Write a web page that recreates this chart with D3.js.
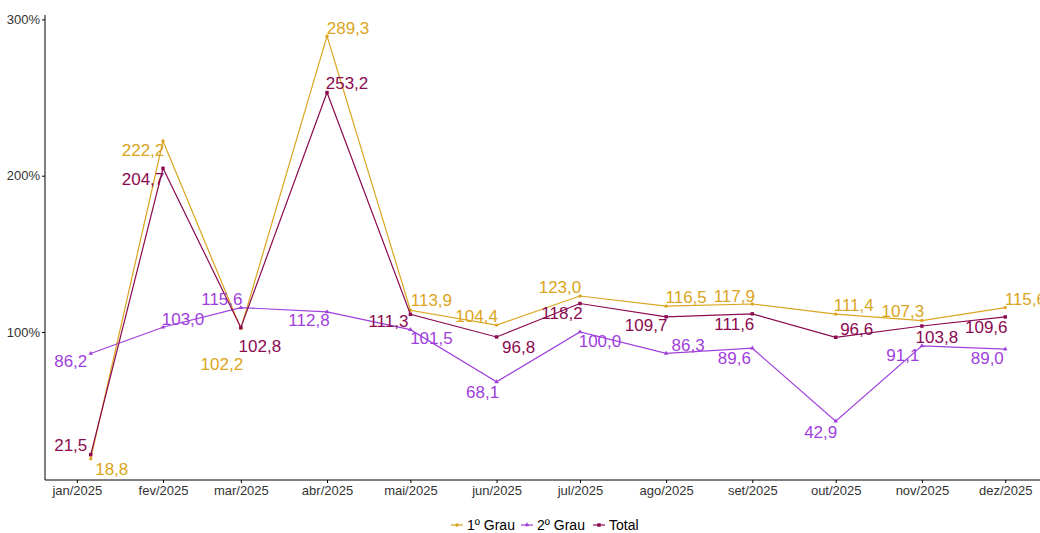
<!DOCTYPE html>
<html lang="pt">
<head>
<meta charset="UTF-8"/>
<title>Grau</title>
<script src="https://d3js.org/d3.v7.min.js"></script>
<style>
    body { margin: 0; background: #fff; }
    text { font-family: "Liberation Sans", Arial, sans-serif; }
    .axis path, .axis line { stroke: #000; }
    .axis text { fill: #333; font-size: 13px; }
</style>
</head>
<body>
<div id="chart"></div>
<script>
// data
var dates = ["2025-01-06", "2025-02-01", "2025-03-01", "2025-04-01", "2025-05-01", "2025-06-01",
             "2025-07-01", "2025-08-01", "2025-09-01", "2025-10-01", "2025-11-01", "2025-12-01"];
var tickDates = ["2025-01-01", "2025-02-01", "2025-03-01", "2025-04-01", "2025-05-01", "2025-06-01",
                 "2025-07-01", "2025-08-01", "2025-09-01", "2025-10-01", "2025-11-01", "2025-12-01"];
var tickLabels = ["jan/2025", "fev/2025", "mar/2025", "abr/2025", "mai/2025", "jun/2025",
                  "jul/2025", "ago/2025", "set/2025", "out/2025", "nov/2025", "dez/2025"];
var grau1 = [18.8, 222.2, 102.2, 289.3, 113.9, 104.4, 123.0, 116.5, 117.9, 111.4, 107.3, 115.6];
var grau2 = [86.2, 103.0, 115.6, 112.8, 101.5, 68.1, 100.0, 86.3, 89.6, 42.9, 91.1, 89.0];
var total = [21.5, 204.7, 102.8, 253.2, 111.3, 96.8, 118.2, 109.7, 111.6, 96.6, 103.8, 109.6];
var yTicks = [100, 200, 300];

// label nudges (repel-like), px from point
var off1 = [[21,11],[-20,10],[-19,36],[21,-8],[21,-10],[-20,-9],[-20,-9],[20,-9],[-18,-7],[18,-9],[-19,-9],[20,-8]];
var off2 = [[-20,8],[20,-8],[-19,-8],[-18,9],[21,9],[-14,11],[20,10],[22,-8],[-18,10],[-15,11],[-19,10],[-18,9]];
var off3 = [[-20,-9],[-20,11],[19,19],[20,-9],[-22,7],[22,11],[-18,10],[-20,9],[-18,11],[21,-8],[15,11],[-19,11]];

var series = [
    {name: "1º Grau", values: grau1, color: "#DAA520", symbol: d3.symbolCircle, size: 9, off: off1},
    {name: "2º Grau", values: grau2, color: "#A040DC", symbol: d3.symbolTriangle, size: 9, off: off2},
    {name: "Total", values: total, color: "#8B0A50", symbol: d3.symbolSquare, size: 12, off: off3}
];

var width = 1040, height = 533;
var parse = d3.timeParse("%Y-%m-%d");
var xd = dates.map(parse);

var svg = d3.select("#chart").append("svg")
    .attr("width", width)
    .attr("height", height);

// expanded domains like ggplot (5%)
var xExt = d3.extent(xd);
var xPad = (xExt[1] - xExt[0]) * 0.05;
var x = d3.scaleTime()
    .domain([new Date(+xExt[0] - xPad), new Date(+xExt[1] + xPad)])
    .range([45, 1051]);

var all = grau1.concat(grau2, total);
var yExt = d3.extent(all);
var yPad = (yExt[1] - yExt[0]) * 0.05;
var y = d3.scaleLinear()
    .domain([yExt[0] - yPad, yExt[1] + yPad])
    .range([480, 15]);

var fmt = function(v) { return d3.format(".1f")(v).replace(".", ","); };

// axes
svg.append("g")
    .attr("class", "axis")
    .attr("transform", "translate(0,480)")
    .call(d3.axisBottom(x)
        .tickValues(tickDates.map(parse))
        .tickFormat(function(d, i) { return tickLabels[i]; })
        .tickSizeOuter(0).tickSize(3).tickPadding(3))
    .call(function(g) { g.select(".domain").attr("d", "M45,0H1051"); });

svg.append("g")
    .attr("class", "axis")
    .attr("transform", "translate(45,0)")
    .call(d3.axisLeft(y)
        .tickValues(yTicks)
        .tickFormat(function(d) { return d + "%"; })
        .tickSizeOuter(0).tickSize(3).tickPadding(2))
    .call(function(g) { g.select(".domain").attr("d", "M0,15V480"); });

var line = d3.line()
    .x(function(d, i) { return x(xd[i]); })
    .y(function(d) { return y(d); });

series.forEach(function(s) {
    var g = svg.append("g");
    g.append("path")
        .datum(s.values)
        .attr("d", line)
        .attr("fill", "none")
        .attr("stroke", s.color)
        .attr("stroke-width", 1.2);

    g.selectAll("path.pt")
        .data(s.values)
        .enter()
        .append("path")
        .attr("class", "pt")
        .attr("transform", function(d, i) { return "translate(" + x(xd[i]) + "," + y(d) + ")"; })
        .attr("d", d3.symbol().type(s.symbol).size(s.size))
        .attr("fill", s.color);
});

// labels on top
series.forEach(function(s) {
    svg.append("g").selectAll("text")
        .data(s.values)
        .enter()
        .append("text")
        .attr("x", function(d, i) { return x(xd[i]) + s.off[i][0]; })
        .attr("y", function(d, i) { return y(d) + s.off[i][1]; })
        .attr("text-anchor", "middle")
        .attr("dominant-baseline", "central")
        .attr("font-size", "17px")
        .attr("fill", s.color)
        .text(function(d) { return fmt(d); });
});

// legend
var legend = svg.append("g").attr("transform", "translate(0,525)");
var lx = [451, 521, 593];
series.forEach(function(s, i) {
    var it = legend.append("g").attr("transform", "translate(" + lx[i] + ",0)");
    it.append("line")
        .attr("x1", 0).attr("x2", 12)
        .attr("stroke", s.color).attr("stroke-width", 1.2);
    it.append("path")
        .attr("transform", "translate(6,0)")
        .attr("d", d3.symbol().type(s.symbol).size(s.size))
        .attr("fill", s.color);
    it.append("text")
        .attr("x", 16)
        .attr("dominant-baseline", "central")
        .attr("font-size", "14px")
        .attr("fill", "#000")
        .text(s.name);
});
</script>
</body>
</html>
